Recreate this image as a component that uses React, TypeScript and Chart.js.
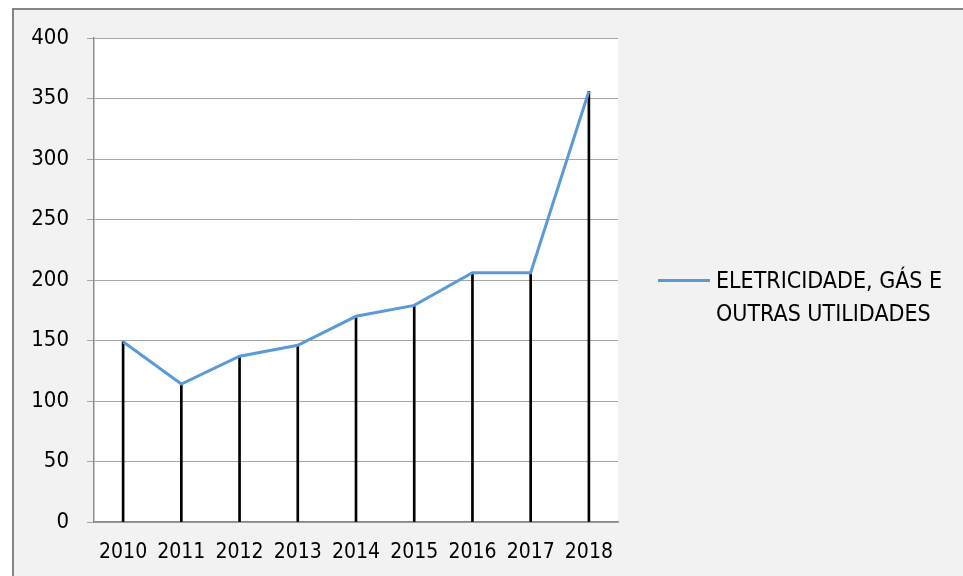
import React, { useEffect, useRef } from "react";
import { Chart, registerables } from "chart.js";

Chart.register(...registerables);

const years = ["2010", "2011", "2012", "2013", "2014", "2015", "2016", "2017", "2018"];
const utilities = [149, 114, 137, 146, 170, 179, 206, 206, 356];
const seriesLabel = ["ELETRICIDADE, GÁS E", "OUTRAS UTILIDADES"];
const yMin = 0;
const yMax = 400;
const yStep = 50;

const FONT = "'Liberation Sans Narrow', 'Arial Narrow', 'DejaVu Sans Condensed', sans-serif";

const plotBg = {
  id: "plotBg",
  beforeDraw(chart: any) {
    const { ctx, chartArea } = chart;
    ctx.save();
    ctx.fillStyle = "#ffffff";
    ctx.fillRect(chartArea.left, chartArea.top, chartArea.right - chartArea.left, chartArea.bottom - chartArea.top);
    ctx.restore();
  },
};

export default function App() {
  const ref = useRef<HTMLCanvasElement | null>(null);

  useEffect(() => {
    if (!ref.current) return;
    const chart = new Chart(ref.current, {
      type: "bar",
      data: {
        labels: years,
        datasets: [
          {
            type: "line",
            label: seriesLabel.join(" "),
            data: utilities,
            borderColor: "#5b9bd5",
            borderWidth: 3,
            pointRadius: 0,
            tension: 0,
            order: 1,
          } as any,
          {
            type: "bar",
            label: "drop",
            data: utilities,
            backgroundColor: "#000000",
            barThickness: 2,
            order: 2,
          } as any,
        ],
      },
      options: {
        animation: false,
        responsive: false,
        maintainAspectRatio: false,
        layout: { padding: { left: 0, top: 38, right: 345, bottom: 0 } },
        plugins: {
          legend: { display: false },
          tooltip: { enabled: false },
          title: { display: false },
        },
        scales: {
          x: {
            offset: true,
            grid: { display: true, drawOnChartArea: false, drawTicks: false },
            border: { display: true, color: "#8c8c8c", width: 1.5 },
            ticks: { color: "#000", font: { family: FONT, size: 21 }, padding: 18, maxRotation: 0 },
            afterFit: (s: any) => { s.height = 54; },
          },
          y: {
            min: yMin,
            max: yMax,
            grid: { color: "#a6a6a6", lineWidth: 1, tickLength: 7, drawTicks: true },
            border: { display: true, color: "#8c8c8c", width: 1.5 },
            ticks: { stepSize: yStep, color: "#000", font: { family: FONT, size: 22 }, padding: 18 },
            afterFit: (s: any) => { s.width = 94; },
          },
        },
      },
      plugins: [plotBg],
    });
    return () => chart.destroy();
  }, []);

  return (
    <div style={{ position: "fixed", left: 0, top: 0, width: 963, height: 576, background: "#ffffff", overflow: "hidden" }}>
      <div
        style={{
          position: "absolute",
          left: 12,
          top: 8,
          width: 980,
          height: 600,
          background: "#f2f2f2",
          borderTop: "2px solid #868686",
          borderLeft: "2px solid #868686",
        }}
      />
      <canvas ref={ref} width={963} height={576} style={{ position: "absolute", left: 0, top: 0, width: 963, height: 576 }} />
      <div style={{ position: "absolute", left: 658, top: 279, width: 52, height: 3, background: "#5b9bd5" }} />
      <div
        style={{
          position: "absolute",
          left: 716,
          top: 264,
          fontFamily: FONT,
          fontSize: 23,
          lineHeight: "33px",
          color: "#000",
          whiteSpace: "nowrap",
        }}
      >
        <div>{seriesLabel[0]}</div>
        <div>{seriesLabel[1]}</div>
      </div>
    </div>
  );
}
